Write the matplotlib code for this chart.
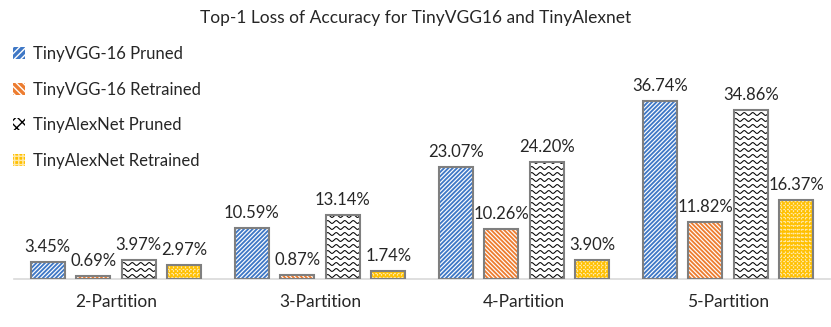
import numpy as np
import matplotlib.pyplot as plt
from matplotlib.patches import Patch

plt.rcParams['font.family'] = ['Lato', 'DejaVu Sans']

# Datos
partitions = ['2-Partition', '3-Partition', '4-Partition', '5-Partition']
series_names = ['TinyVGG-16 Pruned', 'TinyVGG-16 Retrained',
                'TinyAlexNet Pruned', 'TinyAlexNet Retrained']
vgg_pruned = [3.45, 10.59, 23.07, 36.74]
vgg_retrained = [0.69, 0.87, 10.26, 11.82]
alex_pruned = [3.97, 13.14, 24.20, 34.86]
alex_retrained = [2.97, 1.74, 3.90, 16.37]

series = [vgg_pruned, vgg_retrained, alex_pruned, alex_retrained]
colors = ['#3F78C6', '#ED7D31', '#FFFFFF', '#FFC000']
edge = '#7F7F7F'

fig = plt.figure(figsize=(8.31, 3.27), dpi=100)
ax = fig.add_axes([14 / 831, 48 / 327, 816 / 831, 194 / 327])

x = np.arange(len(partitions))
width = 0.168
pitch = 0.223
ylim = 40.0
ax.set_xlim(-0.5, 3.5)
ax.set_ylim(0, ylim)

# unidades de datos por pixel
dx = 4.0 / 816
dy = ylim / 194


def linea(b, xs, ys, **kw):
    ln, = ax.plot(xs, ys, **kw)
    ln.set_clip_path(b)   # despues de add_line, si no se pierde el recorte
    return ln


def trama(b, v, kind):
    """Dibuja la trama dentro de la barra b (recortada a la barra)."""
    x0 = b.get_x()
    W = width / dx          # ancho en px
    H = v / dy              # alto en px
    if kind in ('/', '\\'):
        step = 4.3
        for c in np.arange(-H, W + step, step):
            px = np.array([c, c + H + W])
            py = np.array([0, H + W])
            if kind == '\\':
                px = W - px
            linea(b, x0 + px * dx, py * dy, color='white', lw=0.85,
                  solid_capstyle='butt')
    elif kind == '~':
        xs = np.linspace(0, W, 200)
        yrow = 3.0
        while yrow < H:
            ys = yrow + 1.4 * np.sin(2 * np.pi * xs / 8.5)
            linea(b, x0 + xs * dx, ys * dy, color='black', lw=0.75)
            yrow += 6
    elif kind == '+':
        for c in np.arange(2, W, 4):
            linea(b, [x0 + c * dx] * 2, [0, v], color='#FFE9A8', lw=0.9,
                  ls=(0, (1.5, 1.5)))
        for c in np.arange(2, H, 4):
            linea(b, [x0, x0 + width], [c * dy] * 2, color='#FFE9A8', lw=0.9,
                  ls=(0, (1.5, 1.5)))


kinds = ['/', '\\', '~', '+']
for i, (vals, col) in enumerate(zip(series, colors)):
    pos = x + (i - 1.5) * pitch
    ax.bar(pos, vals, width, color=col, linewidth=0)
    bars = ax.bar(pos, vals, width, fill=False, edgecolor=edge, linewidth=1.5,
                  zorder=3)
    for b, v in zip(bars, vals):
        trama(b, v, kinds[i])
    ax.bar_label(bars, labels=[f'{v:.2f}%' for v in vals], padding=5,
                 fontsize=12, color='#262626')

ax.set_xticks(x)
ax.set_xticklabels(partitions, fontsize=12.5, color='#262626')
ax.tick_params(axis='x', length=0, pad=11)
ax.set_yticks([])
for s in ['top', 'right', 'left']:
    ax.spines[s].set_visible(False)
ax.spines['bottom'].set_color('#D9D9D9')
ax.spines['bottom'].set_linewidth(1.2)

plt.rcParams['hatch.linewidth'] = 1.0
handles = [
    Patch(facecolor=colors[0], edgecolor='white', hatch='/' * 5, linewidth=0),
    Patch(facecolor=colors[1], edgecolor='white', hatch='\\' * 5, linewidth=0),
    Patch(facecolor='white', edgecolor='black', hatch='xxx', linewidth=0),
    Patch(facecolor=colors[3], edgecolor='#FFE9A8', hatch='+' * 4, linewidth=0),
]
fig.legend(handles, series_names, loc='upper left', bbox_to_anchor=(-0.002, 0.905),
           frameon=False, fontsize=12, handlelength=0.7, handleheight=0.7,
           handletextpad=0.45, labelspacing=1.17, labelcolor='#262626')

fig.text(0.5, 1 - 18 / 327, 'Top-1 Loss of Accuracy for TinyVGG16 and TinyAlexnet',
         ha='center', va='center', fontsize=12.5, color='#262626')

fig.savefig('out.png', dpi=100)
